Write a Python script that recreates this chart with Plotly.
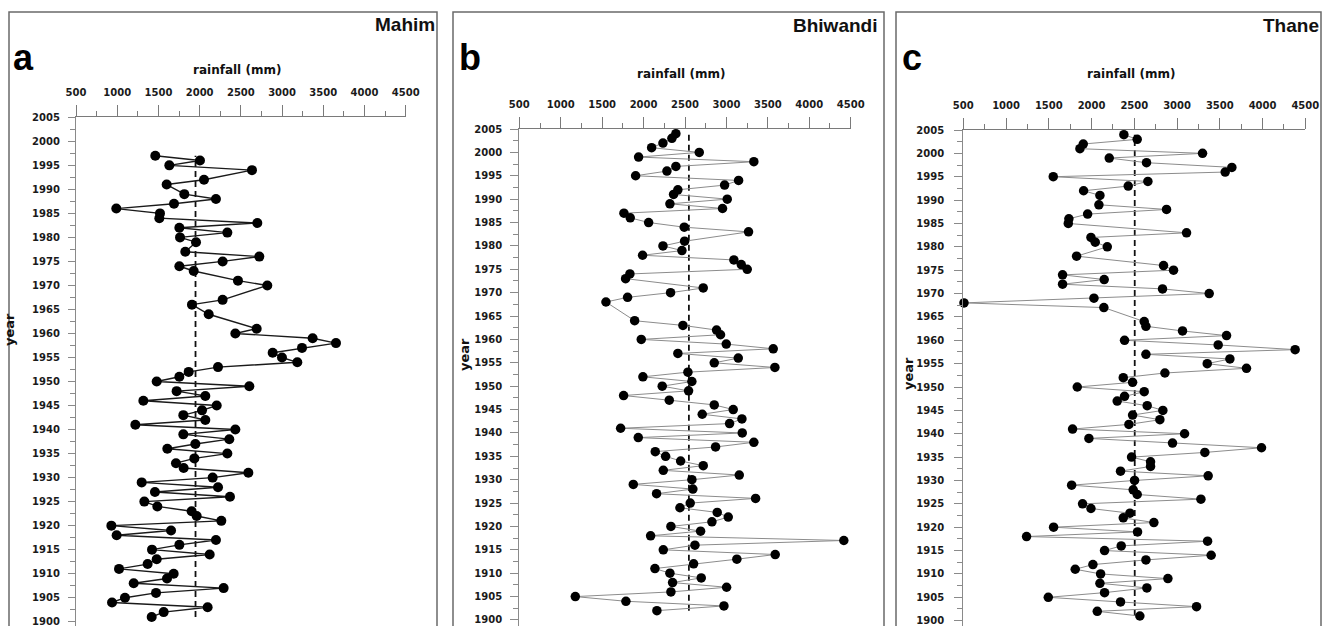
import plotly.graph_objects as go

W, H = 1323, 626

# ---------------- data ----------------
a_years = [1997,1996,1995,1994,1992,1991,1989,1988,1987,1986,1985,1984,1983,1982,1981,1980,1979,1977,1976,1975,
           1974,1973,1971,1970,1967,1966,1964,1961,1960,1959,1958,1957,1956,1955,1954,1953,1952,1951,1950,1949,
           1948,1947,1946,1945,1944,1943,1942,1941,1940,1939,1938,1937,1936,1935,1934,1933,1932,1931,1930,1929,
           1928,1927,1926,1925,1924,1923,1922,1921,1920,1919,1918,1917,1916,1915,1914,1913,1912,1911,1910,1909,
           1908,1907,1906,1905,1904,1903,1902,1901]
a_rain = [1462,2004,1632,2635,2053,1600,1814,2198,1689,989,1519,1511,2700,1754,2336,1762,1956,1826,2724,2279,
          1754,1928,2465,2821,2279,1907,2110,2692,2433,3371,3654,3242,2886,2999,3185,2223,1867,1754,1479,2603,
          1721,2069,1317,2207,2029,1802,2069,1220,2433,1802,2360,1948,1608,2336,1936,1713,1806,2591,2158,1297,
          2223,1458,2368,1329,1487,1903,1964,2263,929,1653,993,2198,1754,1422,2122,1479,1369,1022,1685,1604,
          1200,2291,1471,1094,937,2097,1564,1418]

b_years = [2004,2003,2002,2001,2000,1999,1998,1997,1996,1995,1994,1993,1992,1991,1990,1989,1988,1987,1986,1985,
           1984,1983,1981,1980,1979,1978,1977,1976,1975,1974,1973,1971,1970,1969,1968,1964,1963,1962,1961,1960,
           1959,1958,1957,1956,1955,1954,1953,1952,1951,1950,1949,1948,1947,1946,1945,1944,1943,1942,1941,1940,
           1939,1938,1937,1936,1935,1934,1933,1932,1931,1930,1929,1928,1927,1926,1925,1924,1923,1922,1921,1920,
           1919,1918,1917,1916,1915,1914,1913,1912,1911,1910,1909,1908,1907,1906,1905,1904,1903,1902]
b_rain = [2390,2342,2234,2097,2672,1940,3331,2390,2282,1904,3147,2978,2414,2362,3010,2318,2953,1763,1839,2061,
          2491,3267,2495,2234,2463,1988,3090,3179,3251,1835,1783,2720,2326,1807,1546,1892,2475,2881,2929,1972,
          2998,3565,2414,3143,2853,3585,2535,1992,2583,2225,2543,1759,2310,2853,3082,2708,3187,3038,1723,3191,
          1936,3331,2869,2141,2266,2447,2720,2238,3155,2583,1876,2595,2157,3352,2563,2439,2889,3022,2825,2330,
          2688,2085,4417,2620,2238,3589,3126,2604,2137,2318,2696,2350,3002,2330,1176,1787,2970,2161]

c_years = [2004,2003,2002,2001,2000,1999,1998,1997,1996,1995,1994,1993,1992,1991,1989,1988,1987,1986,1985,1983,
           1982,1981,1980,1978,1976,1975,1974,1973,1972,1971,1970,1969,1968,1967,1964,1963,1962,1961,1960,1959,
           1958,1957,1956,1955,1954,1953,1952,1951,1950,1949,1948,1947,1946,1945,1944,1943,1942,1941,1940,1939,
           1938,1937,1936,1935,1934,1933,1932,1931,1930,1929,1928,1927,1926,1925,1924,1923,1922,1921,1920,1919,
           1918,1917,1916,1915,1914,1913,1912,1911,1910,1909,1908,1907,1906,1905,1904,1903,1902,1901]
c_rain = [2378,2534,1903,1864,3298,2207,2643,3641,3563,1552,2659,2429,1907,2098,2086,2877,1954,1735,1728,3111,
          1993,2043,2184,1825,2842,2959,1661,2148,1661,2830,3376,2028,508,2144,2616,2636,3064,3579,2386,3481,
          4381,2636,3618,3353,3812,2858,2371,2480,1833,2616,2386,2300,2651,2834,2480,2799,2437,1778,3088,1969,
          2947,3988,3325,2468,2690,2690,2339,3364,2503,1767,2487,2534,3279,1895,1993,2449,2371,2729,1556,2538,
          1240,3357,2347,2152,3399,2636,2016,1809,2106,2893,2098,2647,2152,1494,2339,3228,2067,2565]

mean_rain = [1950, 2547, 2505]
panel_letters = ["a", "b", "c"]
stations = ["Mahim", "Bhiwandi", "Thane"]
x_ticks = [500, 1000, 1500, 2000, 2500, 3000, 3500, 4000, 4500]
y_ticks = list(range(1900, 2006, 5))

# ---------------- layout geometry (pixels) ----------------
geo = [
    dict(x0=76.0, x1=405.7, ytop=117.3, ppy=4.804, frame=(9, 437), yt_len=7, yt_stand=6,
         letter=(11, 58), station=(437, 24.5), xtitle=(237, 69.5), ytitle=(9, 330)),
    dict(x0=519.3, x1=850.7, ytop=129.0, ppy=4.676, frame=(453, 884), yt_len=8, yt_stand=6,
         letter=(457, 58), station=(879, 25), xtitle=(680.5, 73.5), ytitle=(464, 355)),
    dict(x0=963.3, x1=1305.3, ytop=130.0, ppy=4.673, frame=(896, 1321), yt_len=8, yt_stand=8,
         letter=(900, 58), station=(1321, 25), xtitle=(1130.5, 74.5), ytitle=(908, 374)),
]

series = [(a_years, a_rain), (b_years, b_rain), (c_years, c_rain)]
line_style = [dict(color="#1a1a1a", width=1.4), dict(color="#8c8c8c", width=1.0), dict(color="#8c8c8c", width=1.0)]
msize = [10, 9.5, 9.5]

TF = "DejaVu Sans"
fig = go.Figure()
layout = dict(width=W, height=H, margin=dict(l=0, r=0, t=0, b=0, autoexpand=False),
              paper_bgcolor="white", plot_bgcolor="rgba(0,0,0,0)", showlegend=False)
shapes, annotations = [], []

for i, (g, (yrs, rain)) in enumerate(zip(geo, series)):
    sfx = "" if i == 0 else str(i + 1)
    xa, ya = "x" + sfx, "y" + sfx
    ybottom = 1900 - (H - (g["ytop"] + 105 * g["ppy"])) / g["ppy"]
    layout["xaxis" + sfx] = dict(
        domain=[g["x0"] / W, g["x1"] / W], range=[500, 4500], side="top", anchor=ya,
        automargin=False,
        showline=True, linecolor="#7a7a7a", linewidth=1.2, showgrid=False, zeroline=False,
        ticks="outside", ticklen=11, tickwidth=1.2, tickcolor="#7a7a7a",
        tickvals=x_ticks, ticktext=[str(v) for v in x_ticks], ticklabelstandoff=5,
        ticklabeloverflow="allow",
        tickfont=dict(family=TF, size=10, color="#1a1a1a", weight="bold"),
        minor=dict(dtick=250, tick0=500, ticklen=5, tickwidth=1.2, tickcolor="#7a7a7a", ticks="outside"),
        fixedrange=True,
    )
    layout["yaxis" + sfx] = dict(
        domain=[0, 1 - g["ytop"] / H], range=[ybottom, 2005], anchor=xa,
        automargin=False,
        showline=True, linecolor="#8a8a8a", linewidth=1.2, showgrid=False, zeroline=False,
        ticks="outside", ticklen=g["yt_len"], tickwidth=1.2, tickcolor="#8a8a8a",
        tickvals=y_ticks, ticktext=[str(v) for v in y_ticks], ticklabelstandoff=g["yt_stand"],
        ticklabeloverflow="allow",
        tickfont=dict(family=TF, size=10, color="#1a1a1a", weight="bold"),
        minor=dict(dtick=2.5, tick0=1900, ticklen=5, tickwidth=1.2, tickcolor="#8a8a8a", ticks="outside"),
        fixedrange=True,
    )
    # mean dashed line
    fig.add_trace(go.Scatter(x=[mean_rain[i], mean_rain[i]], y=[min(yrs), max(yrs)], mode="lines",
                             line=dict(color="#111111", width=1.8, dash="6px,4px"),
                             xaxis=xa, yaxis=ya, hoverinfo="skip"))
    # data
    fig.add_trace(go.Scatter(x=rain, y=yrs, mode="lines+markers", line=line_style[i],
                             marker=dict(color="black", size=msize[i]),
                             xaxis=xa, yaxis=ya, cliponaxis=False))
    # frame
    fx0, fx1 = g["frame"]
    shapes.append(dict(type="rect", xref="paper", yref="paper", x0=fx0 / W, x1=fx1 / W,
                       y0=-0.02, y1=1 - 12 / H, line=dict(color="#6a6a6a", width=1.5), layer="above"))
    lx, ly = g["letter"]
    annotations.append(dict(text=panel_letters[i], xref="paper", yref="paper", x=lx / W, y=1 - ly / H,
                            xanchor="left", yanchor="middle", showarrow=False,
                            font=dict(family="Liberation Sans, Arial", size=36, color="black", weight="bold")))
    sx, sy = g["station"]
    annotations.append(dict(text=stations[i], xref="paper", yref="paper", x=sx / W, y=1 - sy / H,
                            xanchor="right", yanchor="middle", showarrow=False,
                            font=dict(family="Liberation Sans, Arial", size=19, color="#111111", weight="bold")))
    tx, ty = g["xtitle"]
    annotations.append(dict(text="rainfall (mm)", xref="paper", yref="paper", x=tx / W, y=1 - ty / H,
                            xanchor="center", yanchor="middle", showarrow=False,
                            font=dict(family=TF, size=12, color="#111111", weight="bold")))
    vx, vy = g["ytitle"]
    annotations.append(dict(text="year", xref="paper", yref="paper", x=vx / W, y=1 - vy / H,
                            xanchor="center", yanchor="middle", showarrow=False, textangle=-90,
                            font=dict(family=TF, size=13, color="#111111", weight="bold")))

layout["shapes"] = shapes
layout["annotations"] = annotations
fig.update_layout(**layout)
fig.write_html("out.html")
